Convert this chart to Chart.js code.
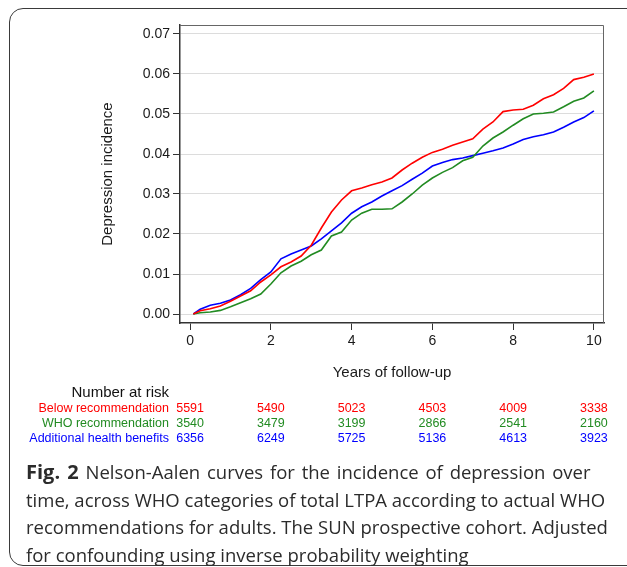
<!DOCTYPE html>
<html>
<head>
<meta charset="utf-8">
<script src="https://cdn.jsdelivr.net/npm/chart.js@4/dist/chart.umd.min.js"></script>
<style>
  body { margin: 0; background: #fff; width: 627px; height: 567px; overflow: hidden; position: relative; }
  #frame {
    position: absolute; left: 9px; top: 8px; width: 700px; height: 558px;
    border: 1.5px solid #3a3a3a; border-radius: 14px; box-sizing: border-box;
  }
  #chart { position: absolute; left: 0; top: 0; }
  #caption {
    position: absolute; left: 26px; top: 458px;
    font-family: "Open Sans", sans-serif; font-size: 18.5px; line-height: 27.7px;
    color: #2b2b2b; white-space: nowrap;
  }
  #caption .first { word-spacing: 2px; }
  #caption b { font-size: 20px; }
</style>
</head>
<body>
<div id="frame"></div>
<canvas id="chart" width="627" height="460"></canvas>
<div id="caption">
  <div class="first"><b>Fig. 2</b> Nelson-Aalen curves for the incidence of depression over</div>
  <div>time, across WHO categories of total LTPA according to actual WHO</div>
  <div>recommendations for adults. The SUN prospective cohort. Adjusted</div>
  <div>for confounding using inverse probability weighting</div>
</div>
<script>
const times = [0.08, 0.25, 0.5, 0.75, 1, 1.25, 1.5, 1.75, 2, 2.25, 2.5, 2.75, 3, 3.25, 3.5, 3.75,
  4, 4.25, 4.5, 4.75, 5, 5.25, 5.5, 5.75, 6, 6.25, 6.5, 6.75, 7, 7.25, 7.5, 7.75,
  8, 8.25, 8.5, 8.75, 9, 9.25, 9.5, 9.75, 10];

const belowRec = [0, 0.0008, 0.0013, 0.0020, 0.0032, 0.0045, 0.0058, 0.0080, 0.0098, 0.0118, 0.0130,
  0.0145, 0.0172, 0.0215, 0.0255, 0.0285, 0.0308, 0.0315, 0.0323, 0.0330, 0.0340, 0.0360,
  0.0377, 0.0392, 0.0404, 0.0412, 0.0422, 0.0430, 0.0438, 0.0462, 0.0480, 0.0506, 0.0510,
  0.0512, 0.0522, 0.0538, 0.0548, 0.0564, 0.0586, 0.0592, 0.0600];

const whoRec = [0, 0.0003, 0.0005, 0.0009, 0.0018, 0.0028, 0.0038, 0.0050, 0.0075, 0.0103, 0.0120,
  0.0132, 0.0148, 0.0160, 0.0195, 0.0205, 0.0235, 0.0252, 0.0262, 0.0262, 0.0263, 0.0280,
  0.0300, 0.0322, 0.0340, 0.0354, 0.0366, 0.0383, 0.0392, 0.0420, 0.0440, 0.0455, 0.0472,
  0.0488, 0.0500, 0.0502, 0.0505, 0.0518, 0.0532, 0.0540, 0.0558];

const additional = [0, 0.0012, 0.0022, 0.0027, 0.0035, 0.0048, 0.0064, 0.0086, 0.0105, 0.0138, 0.0150,
  0.0160, 0.0170, 0.0188, 0.0208, 0.0228, 0.0252, 0.0268, 0.0280, 0.0295, 0.0308, 0.0321,
  0.0337, 0.0352, 0.0370, 0.0379, 0.0386, 0.0390, 0.0396, 0.0402, 0.0408, 0.0415, 0.0425,
  0.0436, 0.0443, 0.0448, 0.0455, 0.0467, 0.0480, 0.0491, 0.0508];

const xTicks = [0, 2, 4, 6, 8, 10];
const yTicks = [0, 0.01, 0.02, 0.03, 0.04, 0.05, 0.06, 0.07];

const riskTimes = [0, 2, 4, 6, 8, 10];
const riskLabels = ["Below recommendation", "WHO recommendation", "Additional health benefits"];
const riskBelow = [5591, 5490, 5023, 4503, 4009, 3338];
const riskWho = [3540, 3479, 3199, 2866, 2541, 2160];
const riskAdditional = [6356, 6249, 5725, 5136, 4613, 3923];

const colors = ["#ff0000", "#228b22", "#0000ff"];

Chart.defaults.font.family = "'Liberation Sans', Arial, Helvetica, sans-serif";
Chart.defaults.color = "#1a1a1a";

const toPoints = vals => vals.map((v, i) => ({ x: times[i], y: v }));

// box round the plot area and the number-at-risk table underneath
const extras = {
  id: "extras",
  afterDraw: chart => {
    const ctx = chart.ctx;
    const area = chart.chartArea;
    const xAxis = chart.scales.x;

    ctx.save();
    ctx.strokeStyle = "#666";
    ctx.lineWidth = 1;
    ctx.beginPath();
    ctx.moveTo(area.left, area.top + 0.5);
    ctx.lineTo(area.right - 0.5, area.top + 0.5);
    ctx.lineTo(area.right - 0.5, area.bottom);
    ctx.stroke();
    ctx.restore();

    ctx.save();
    ctx.textBaseline = "middle";
    ctx.textAlign = "right";
    ctx.fillStyle = "#111";
    ctx.font = "15px 'Liberation Sans', Arial, sans-serif";
    ctx.fillText("Number at risk", 169, 393);

    const rows = [riskBelow, riskWho, riskAdditional];
    const rowY = [409, 424, 439];
    ctx.font = "12.5px 'Liberation Sans', Arial, sans-serif";
    rows.forEach((row, r) => {
      ctx.fillStyle = colors[r];
      ctx.textAlign = "right";
      ctx.fillText(riskLabels[r], 169, rowY[r]);
      ctx.textAlign = "center";
      row.forEach((n, i) => {
        ctx.fillText(String(n), xAxis.getPixelForValue(riskTimes[i]), rowY[r]);
      });
    });
    ctx.restore();
  }
};

new Chart(document.getElementById("chart"), {
  type: "line",
  plugins: [extras],
  data: {
    datasets: [
      { label: riskLabels[0], data: toPoints(belowRec), borderColor: colors[0] },
      { label: riskLabels[1], data: toPoints(whoRec), borderColor: colors[1] },
      { label: riskLabels[2], data: toPoints(additional), borderColor: colors[2] }
    ]
  },
  options: {
    responsive: false,
    animation: false,
    layout: { padding: { left: 96, top: 25, right: 23, bottom: 75 } },
    elements: {
      point: { radius: 0 },
      line: { borderWidth: 1.6, tension: 0 }
    },
    plugins: { legend: { display: false }, tooltip: { enabled: false } },
    scales: {
      x: {
        type: "linear",
        min: -0.25,
        max: 10.25,
        afterBuildTicks: scale => { scale.ticks = xTicks.map(v => ({ value: v })); },
        afterFit: scale => { scale.height = 62; },
        ticks: { font: { size: 14 }, padding: 3, maxRotation: 0 },
        grid: { drawOnChartArea: false, tickLength: 7, tickColor: "#333" },
        border: { color: "#333", width: 1.5 },
        title: {
          display: true,
          text: "Years of follow-up",
          font: { size: 15 },
          padding: { top: 0, bottom: 3 }
        }
      },
      y: {
        min: -0.00225,
        max: 0.07225,
        afterBuildTicks: scale => { scale.ticks = yTicks.map(v => ({ value: v })); },
        afterFit: scale => { scale.width = 84; },
        ticks: { font: { size: 14 }, padding: 3, callback: v => v.toFixed(2) },
        grid: { color: "#dcdcdc", lineWidth: 1, tickLength: 7, tickColor: "#333" },
        border: { color: "#333", width: 1.5 },
        title: {
          display: true,
          text: "Depression incidence",
          font: { size: 15 },
          padding: { top: 3, bottom: 0 }
        }
      }
    }
  }
});
</script>
</body>
</html>
